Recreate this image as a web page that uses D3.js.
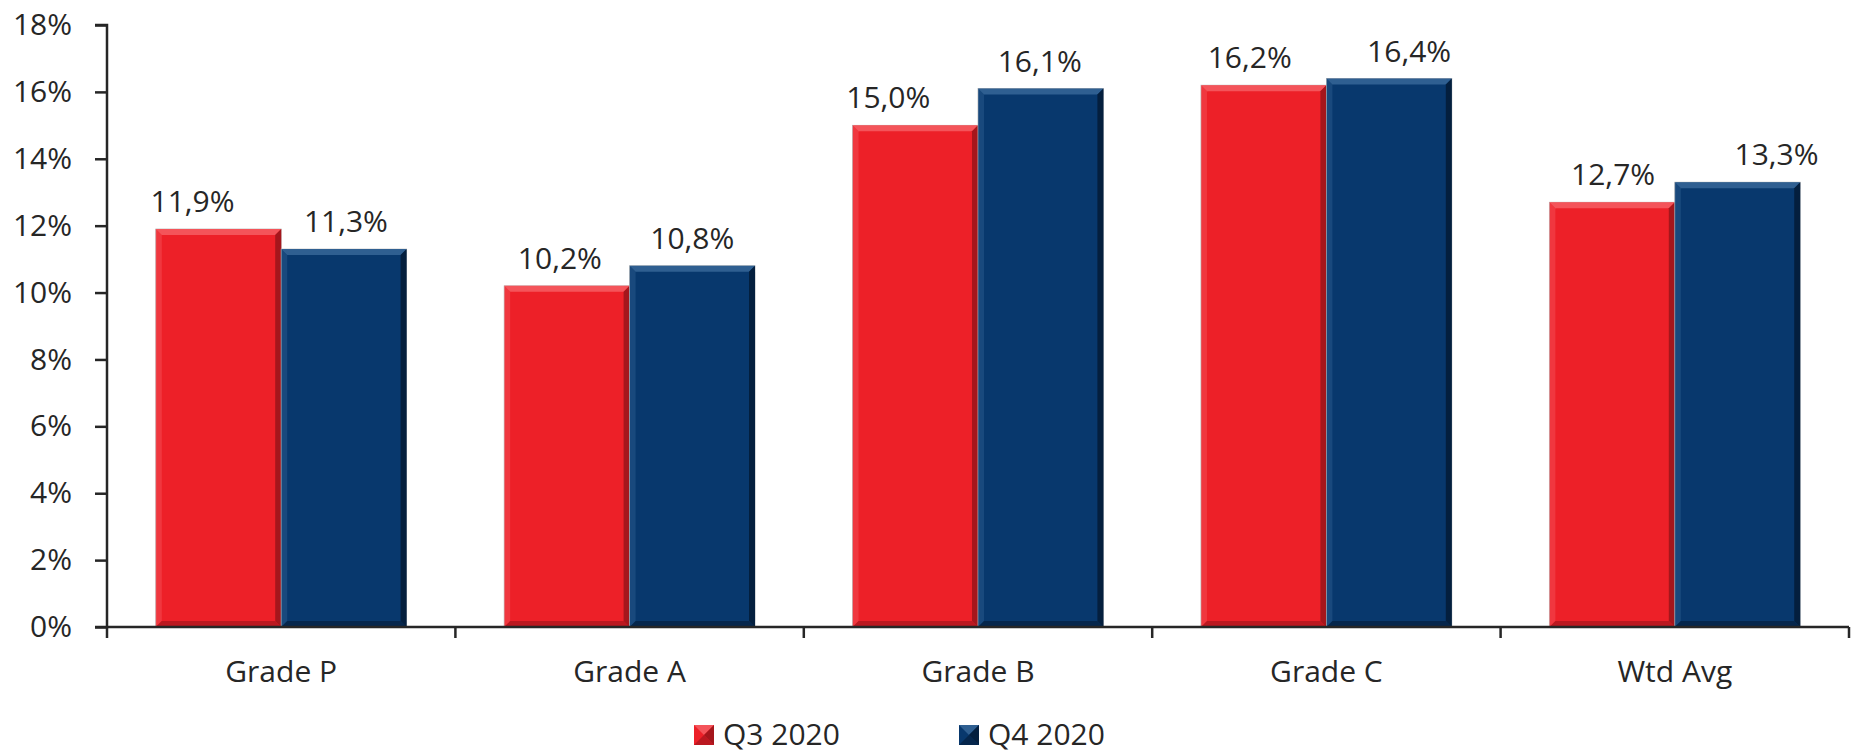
<!DOCTYPE html>
<html>
<head>
<meta charset="utf-8">
<script src="https://cdn.jsdelivr.net/npm/d3@7"></script>
<style>
  body { margin: 0; background: #fff; }
  text { font-family: "Open Sans", sans-serif; fill: #262626; }
</style>
</head>
<body>
<div id="chart"></div>
<script>
// data
var categories = ["Grade P", "Grade A", "Grade B", "Grade C", "Wtd Avg"];
var seriesNames = ["Q3 2020", "Q4 2020"];
var q3 = [11.9, 10.2, 15.0, 16.2, 12.7];
var q4 = [11.3, 10.8, 16.1, 16.4, 13.3];
var yTicks = [0, 2, 4, 6, 8, 10, 12, 14, 16, 18];

// hand-placed label nudges (px) as in the original
var labelShift = [[-26, 2], [-7, 0], [-27, -1], [-14, 20], [1, 39]];

var svgWidth = 1856, svgHeight = 754;
var margin = { top: 25, right: 7, bottom: 127, left: 107 };
var width = svgWidth - margin.left - margin.right;
var height = svgHeight - margin.top - margin.bottom;

var colors = ["#ed2028", "#08386d"];
var lighter = ["#f4545a", "#2f5f91"];
var darker = ["#a5161c", "#041f3e"];

var svg = d3.select("#chart").append("svg")
  .attr("width", svgWidth)
  .attr("height", svgHeight);

var chartGroup = svg.append("g")
  .attr("transform", `translate(${margin.left}, ${margin.top})`);

var x0 = d3.scaleBand()
  .domain(categories)
  .range([0, width])
  .paddingInner(0.28)
  .paddingOuter(0.14);

var x1 = d3.scaleBand()
  .domain([0, 1])
  .range([0, x0.bandwidth()]);

var y = d3.scaleLinear()
  .domain([0, 18])
  .range([height, 0]);

var rows = categories.map(function(c, i) {
  return [{ cat: c, s: 0, v: q3[i], i: i }, { cat: c, s: 1, v: q4[i], i: i }];
});

// bevelled bars
function bevel(g, w, h, s, b) {
  b = Math.min(b, h / 2);
  g.append("rect").attr("width", w).attr("height", h).attr("fill", colors[s])
    .attr("stroke", "#b8b8b8").attr("stroke-width", 0.8);
  g.append("path").attr("d", `M0,0 L${w},0 L${w - b},${b} L${b},${b} Z`)
    .attr("fill", lighter[s]);
  g.append("path").attr("d", `M0,0 L${b},${b} L${b},${h - b} L0,${h} Z`)
    .attr("fill", lighter[s]).attr("opacity", 0.45);
  g.append("path").attr("d", `M${w},0 L${w},${h} L${w - b},${h - b} L${w - b},${b} Z`)
    .attr("fill", darker[s]);
  g.append("path").attr("d", `M0,${h} L${w},${h} L${w - b},${h - b} L${b},${h - b} Z`)
    .attr("fill", darker[s]).attr("opacity", 0.7);
}

var groups = chartGroup.selectAll(".grp")
  .data(rows)
  .enter().append("g")
  .attr("class", "grp")
  .attr("transform", d => `translate(${x0(d[0].cat)},0)`);

groups.selectAll(".bar")
  .data(d => d)
  .enter().append("g")
  .attr("class", "bar")
  .attr("transform", d => `translate(${x1(d.s)},${y(d.v)})`)
  .each(function(d) {
    bevel(d3.select(this), x1.bandwidth(), height - y(d.v), d.s, 6);
  });

groups.selectAll(".lbl")
  .data(d => d)
  .enter().append("text")
  .attr("class", "lbl")
  .attr("x", d => x1(d.s) + x1.bandwidth() / 2 + labelShift[d.i][d.s])
  .attr("y", d => y(d.v) - 17)
  .attr("text-anchor", "middle")
  .style("font-size", "30px")
  .text(d => d.v.toFixed(1).replace(".", ",") + "%");

// y axis
var leftAxis = d3.axisLeft(y)
  .tickValues(yTicks)
  .tickSize(12)
  .tickPadding(23)
  .tickFormat(d => d + "%");

var yAxisG = chartGroup.append("g").call(leftAxis);
yAxisG.select(".domain").attr("stroke", "#262626").attr("stroke-width", 2.5)
  .attr("d", `M-12,0H0V${height}H-12`);
yAxisG.selectAll(".tick line").attr("stroke", "#262626").attr("stroke-width", 2.5);
yAxisG.selectAll(".tick text").style("font-size", "30px")
  .style("font-family", "'Open Sans', sans-serif").attr("fill", "#262626");

// x axis with ticks between categories
var xAxisG = chartGroup.append("g").attr("transform", `translate(0,${height})`);
xAxisG.append("line").attr("x1", 0).attr("x2", width)
  .attr("stroke", "#262626").attr("stroke-width", 2.5);
var bounds = categories.map(c => x0(c) - x0.step() * x0.paddingOuter()).concat([width]);
xAxisG.selectAll(".xt").data(bounds).enter().append("line")
  .attr("x1", d => d).attr("x2", d => d)
  .attr("y1", 0).attr("y2", 11)
  .attr("stroke", "#262626").attr("stroke-width", 2.5);
xAxisG.selectAll(".xl").data(categories).enter().append("text")
  .attr("x", d => x0(d) + x0.bandwidth() / 2)
  .attr("y", 55)
  .attr("text-anchor", "middle")
  .style("font-size", "30px")
  .text(d => d);

// legend
var legendX = [694, 959];
var legend = svg.selectAll(".leg").data(seriesNames).enter().append("g")
  .attr("class", "leg")
  .attr("transform", (d, i) => `translate(${legendX[i]},725)`);
legend.each(function(d, i) {
  var g = d3.select(this);
  g.append("rect").attr("width", 20).attr("height", 20).attr("fill", colors[i]);
  g.append("path").attr("d", "M0,0 L20,0 L10,10 Z").attr("fill", lighter[i]);
  g.append("path").attr("d", "M20,0 L20,20 L10,10 Z").attr("fill", darker[i]);
  g.append("path").attr("d", "M0,20 L20,20 L10,10 Z").attr("fill", darker[i]).attr("opacity", 0.7);
});
legend.append("text")
  .attr("x", 29)
  .attr("y", 20)
  .style("font-size", "30px")
  .text(d => d);
</script>
</body>
</html>
